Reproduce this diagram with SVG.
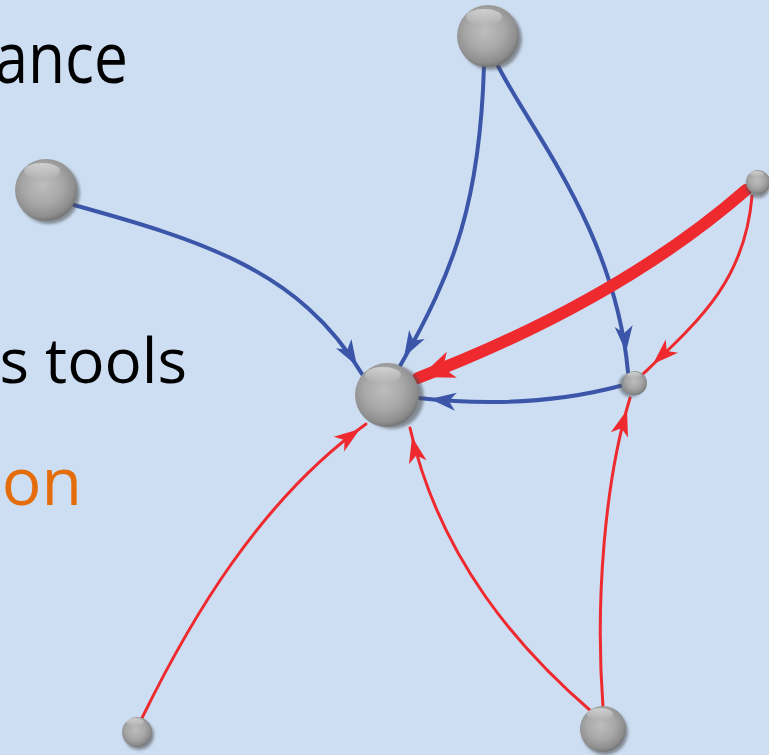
<svg xmlns="http://www.w3.org/2000/svg" xmlns:xlink="http://www.w3.org/1999/xlink" width="769" height="755" viewBox="0 0 769 755">
<defs>
<style>
.txt{font-family:"Open Sans","Liberation Sans",sans-serif;fill:#000}
.blue{fill:none;stroke:#3B56A8;stroke-width:4;stroke-linecap:round}
.red{fill:none;stroke:#EE2A2F;stroke-width:3;stroke-linecap:round}
.ahb{fill:#3B56A8}
.ahr{fill:#EE2A2F}
.ball{fill:url(#sph)}
.shadow{fill:#4a4a4a;opacity:0.55;filter:url(#blur)}
.hl{fill:url(#hlg)}
</style>
<radialGradient id="sph" cx="0.45" cy="0.42" r="0.62">
<stop offset="0" stop-color="#BDBDBD"/>
<stop offset="0.5" stop-color="#A8A8A8"/>
<stop offset="0.82" stop-color="#8E8E8E"/>
<stop offset="1" stop-color="#6A6A6A"/>
</radialGradient>
<linearGradient id="hlg" x1="0" y1="0" x2="0" y2="1">
<stop offset="0" stop-color="#fff" stop-opacity="0.5"/>
<stop offset="1" stop-color="#fff" stop-opacity="0"/>
</linearGradient>
<filter id="blur" x="-30%" y="-30%" width="160%" height="160%"><feGaussianBlur stdDeviation="1.5"/></filter>
<path id="ah" d="M0,0 L-26,-9 L-19,0 L-26,9 Z"/>
<path id="ahbig" d="M0,0 L-34,-14 L-25,0 L-34,14 Z"/>
</defs>
<rect width="769" height="755" fill="#CDDEF3"/>
<g id="labels">
<text class="txt" x="128" y="83" font-size="72" text-anchor="end" transform="translate(128,0) scale(0.84,1) translate(-128,0)">ance</text>
<text class="txt" x="187" y="383" font-size="62" text-anchor="end">s tools</text>
<text class="txt" x="82" y="505" font-size="66" text-anchor="end" style="fill:#E46C0A">on</text>
</g>
<g id="connectors">
<path class="blue" d="M484,66 C480,200 455,270 400,366"/>
<use href="#ah" class="ahb" transform="translate(404,357) rotate(119.8)"/>
<path class="blue" d="M497,64 C530,130 615,230 628,372"/>
<use href="#ah" class="ahb" transform="translate(626,352) rotate(84.8)"/>
<path class="blue" d="M74,205 C200,240 300,270 362,374"/>
<use href="#ah" class="ahb" transform="translate(357,366) rotate(59.2)"/>
<path class="blue" d="M620,386 Q530,410 418,398"/>
<use href="#ah" class="ahb" transform="translate(430,399) rotate(186)"/>
<path d="M746,190 Q620,300 418,378" fill="none" stroke="#EE2A2F" stroke-width="12" stroke-linecap="round"/>
<use href="#ahbig" class="ahr" transform="translate(420,377) rotate(158.9)"/>
<path class="red" d="M752,196 C745,280 700,320 643,374"/>
<use href="#ah" class="ahr" transform="translate(653,364) rotate(136.5)"/>
<path class="red" d="M142,718 C190,620 260,500 366,424"/>
<use href="#ah" class="ahr" transform="translate(360,429) rotate(-35.6)"/>
<path class="red" d="M592,712 C520,650 440,560 410,428"/>
<use href="#ah" class="ahr" transform="translate(412,437) rotate(-102.8)"/>
<path class="red" d="M603,707 C595,600 605,480 630,398"/>
<use href="#ah" class="ahr" transform="translate(627,410) rotate(-73)"/>
</g>
<g id="nodeA"><circle class="shadow" cx="491" cy="39" r="31"/><circle class="ball" cx="488" cy="36" r="31"/><ellipse class="hl" cx="484" cy="17" rx="18" ry="8"/></g>
<g id="nodeB"><circle class="shadow" cx="49" cy="193" r="31"/><circle class="ball" cx="46" cy="190" r="31"/><ellipse class="hl" cx="42" cy="171" rx="18" ry="8"/></g>
<g id="nodeC"><circle class="shadow" cx="392" cy="397" r="32"/><circle class="ball" cx="387" cy="395" r="32"/><ellipse class="hl" cx="383" cy="375" rx="18" ry="8"/></g>
<g id="nodeD"><circle class="shadow" cx="631" cy="385" r="12"/><circle class="ball" cx="635" cy="383" r="12"/><ellipse class="hl" cx="634" cy="375" rx="7" ry="3"/></g>
<g id="nodeE"><circle class="shadow" cx="758" cy="186" r="12"/><circle class="ball" cx="758" cy="182" r="12"/><ellipse class="hl" cx="757" cy="174" rx="7" ry="3"/></g>
<g id="nodeF"><circle class="shadow" cx="139" cy="735" r="15"/><circle class="ball" cx="137" cy="732" r="15"/><ellipse class="hl" cx="135" cy="722" rx="9" ry="4"/></g>
<g id="nodeG"><circle class="shadow" cx="605" cy="732" r="23"/><circle class="ball" cx="603" cy="729" r="23"/><ellipse class="hl" cx="600" cy="714" rx="13" ry="6"/></g>
</svg>
